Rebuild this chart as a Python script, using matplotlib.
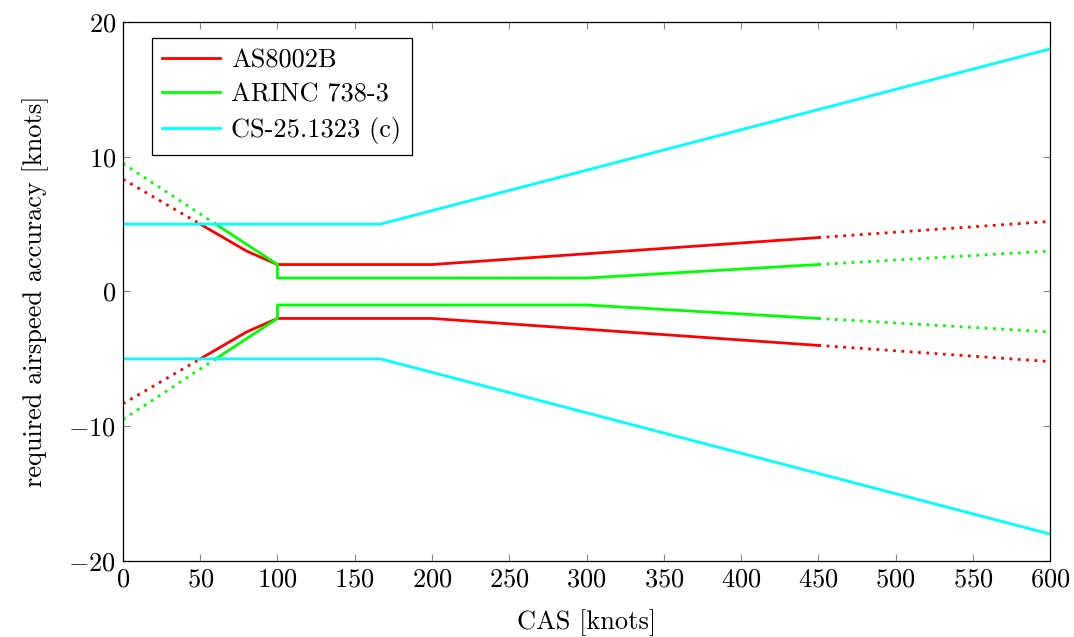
import matplotlib
matplotlib.use('Agg')
import matplotlib.pyplot as plt

# ── Data (upper bound; lower bound is the mirror image) ──
as_x = [50, 80, 100, 200, 450]
as_y = [5, 3, 2, 2, 4]
as_left_x = [0, 50]
as_left_y = [8.33, 5]
as_right_x = [450, 600]
as_right_y = [4, 5.2]

arinc_x = [60, 100, 100, 300, 450]
arinc_y = [5, 2, 1, 1, 2]
arinc_left_x = [0, 60]
arinc_left_y = [9.5, 5]
arinc_right_x = [450, 600]
arinc_right_y = [2, 3]

cs_x = [0, 166.67, 600]
cs_y = [5, 5, 18]

xticks = list(range(0, 601, 50))
yticks = [-20, -10, 0, 10, 20]

# ── Style ──
fs = 19
plt.rcParams.update({
    'font.family': 'serif',
    'font.serif': ['cmr10'],
    'mathtext.fontset': 'cm',
    'axes.formatter.use_mathtext': True,
    'font.size': fs,
})

red, green, cyan = '#ff0000', '#00ff00', '#00ffff'
lw = 2.0
dot = (0, (1, 2))

fig = plt.figure(figsize=(10.74, 6.37), dpi=100)
ax = fig.add_axes([0.1145, 0.1193, 0.8632, 0.8462])

for sign in (1, -1):
    lab = sign == 1
    ax.plot(as_x, [sign * v for v in as_y], color=red, lw=lw,
            label='AS8002B' if lab else None)
    ax.plot(as_left_x, [sign * v for v in as_left_y], color=red, lw=lw, ls=dot)
    ax.plot(as_right_x, [sign * v for v in as_right_y], color=red, lw=lw, ls=dot)

    ax.plot(arinc_x, [sign * v for v in arinc_y], color=green, lw=lw,
            label='ARINC 738-3' if lab else None)
    ax.plot(arinc_left_x, [sign * v for v in arinc_left_y], color=green, lw=lw, ls=dot)
    ax.plot(arinc_right_x, [sign * v for v in arinc_right_y], color=green, lw=lw, ls=dot)

    ax.plot(cs_x, [sign * v for v in cs_y], color=cyan, lw=lw,
            label='CS-25.1323 (c)' if lab else None)

ax.set_xlim(0, 600)
ax.set_ylim(-20, 20)
ax.set_xticks(xticks)
ax.set_yticks(yticks)
ax.tick_params(direction='in', top=True, right=True, length=5, width=0.8,
               color='#888888', labelsize=fs, pad=5)
for s in ax.spines.values():
    s.set_linewidth(0.9)
ax.set_xlabel('CAS [knots]', fontsize=fs, labelpad=13)
ax.set_ylabel('required airspeed accuracy [knots]', fontsize=fs, labelpad=14)

leg = ax.legend(loc='upper left', bbox_to_anchor=(0.031, 0.97),
                fancybox=False, edgecolor='black',
                framealpha=1, fontsize=fs, handlelength=2.2,
                borderaxespad=0, labelspacing=0.4, borderpad=0.4,
                handletextpad=0.4)
leg.get_frame().set_linewidth(0.9)

fig.savefig('out.png', dpi=100)
